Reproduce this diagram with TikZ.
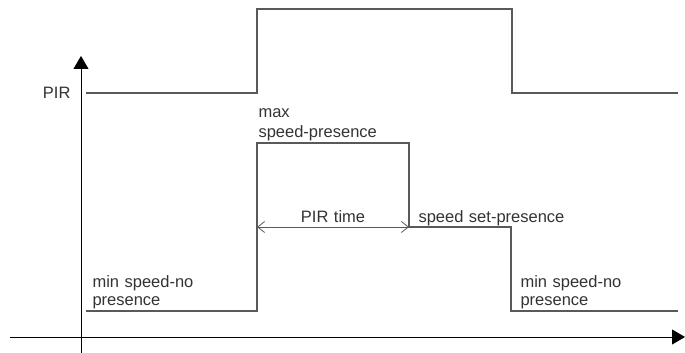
\documentclass[tikz,border=0pt]{standalone}
\usepackage{fontspec}
\setmainfont{Liberation Sans}
\usetikzlibrary{arrows.meta,positioning}
\begin{document}
\begin{tikzpicture}[x=1pt, y=-1pt, line width=1.1pt,
        sig/.style={draw=black!65},
        lbl/.style={inner sep=0pt, anchor=base west, text=black!80, font=\fontsize{16.5}{18}\selectfont},
        axis/.style={draw=black, line width=0.9pt, -{Triangle[length=13pt, width=15pt]}}]
    \useasboundingbox (0,0) rectangle (685,353);

    % axes
    \coordinate (ybot) at (81,353);
    \coordinate (ytop) at (81,56);
    \coordinate (xleft) at (10,337);
    \coordinate (xright) at (685,337);
    \draw[axis] (ybot) -- (ytop);
    \draw[axis] (xleft) -- (xright);

    % PIR signal
    \coordinate (p1) at (86,93);
    \coordinate (p2) at (257,93);
    \coordinate (p3) at (257,9);
    \coordinate (p4) at (512,9);
    \coordinate (p5) at (512,93);
    \coordinate (p6) at (678,93);
    \draw[sig] (p1) -- (p2) -- (p3) -- (p4) -- (p5) -- (p6);
    \node[lbl, anchor=base east] (pir) at (71,98) {PIR};

    % speed signal
    \coordinate (s1) at (86,311);
    \coordinate (s2) at (257,311);
    \coordinate (s3) at (257,143);
    \coordinate (s4) at (409,143);
    \coordinate (s5) at (409,227);
    \coordinate (s6) at (511,227);
    \coordinate (s7) at (511,311);
    \coordinate (s8) at (678,311);
    \draw[sig] (s1) -- (s2) -- (s3) -- (s4) -- (s5) -- (s6) -- (s7) -- (s8);

    % PIR time
    \draw[sig, {Straight Barb[length=7pt, width=11pt]}-{Straight Barb[length=7pt, width=11pt]}, line width=0.8pt]
        (s3 |- s5) -- (s5) node[lbl, midway, anchor=base, yshift=5pt] (pirtime) {PIR\,\,time};

    % labels
    \node[lbl] (max) at (258,117) {max};
    \node[lbl] (maxsp) at (258,137) {speed{-}presence};
    \node[lbl] (setsp) at (418,222) {speed\,\,set{-}presence};
    \node[lbl] (minl) at (92,287) {min\,\,speed{-}no};
    \node[lbl] (minlp) at (92,305) {presence};
    \node[lbl] (minr) at (520,287) {min\,\,speed{-}no};
    \node[lbl] (minrp) at (520,305) {presence};
\end{tikzpicture}
\end{document}
